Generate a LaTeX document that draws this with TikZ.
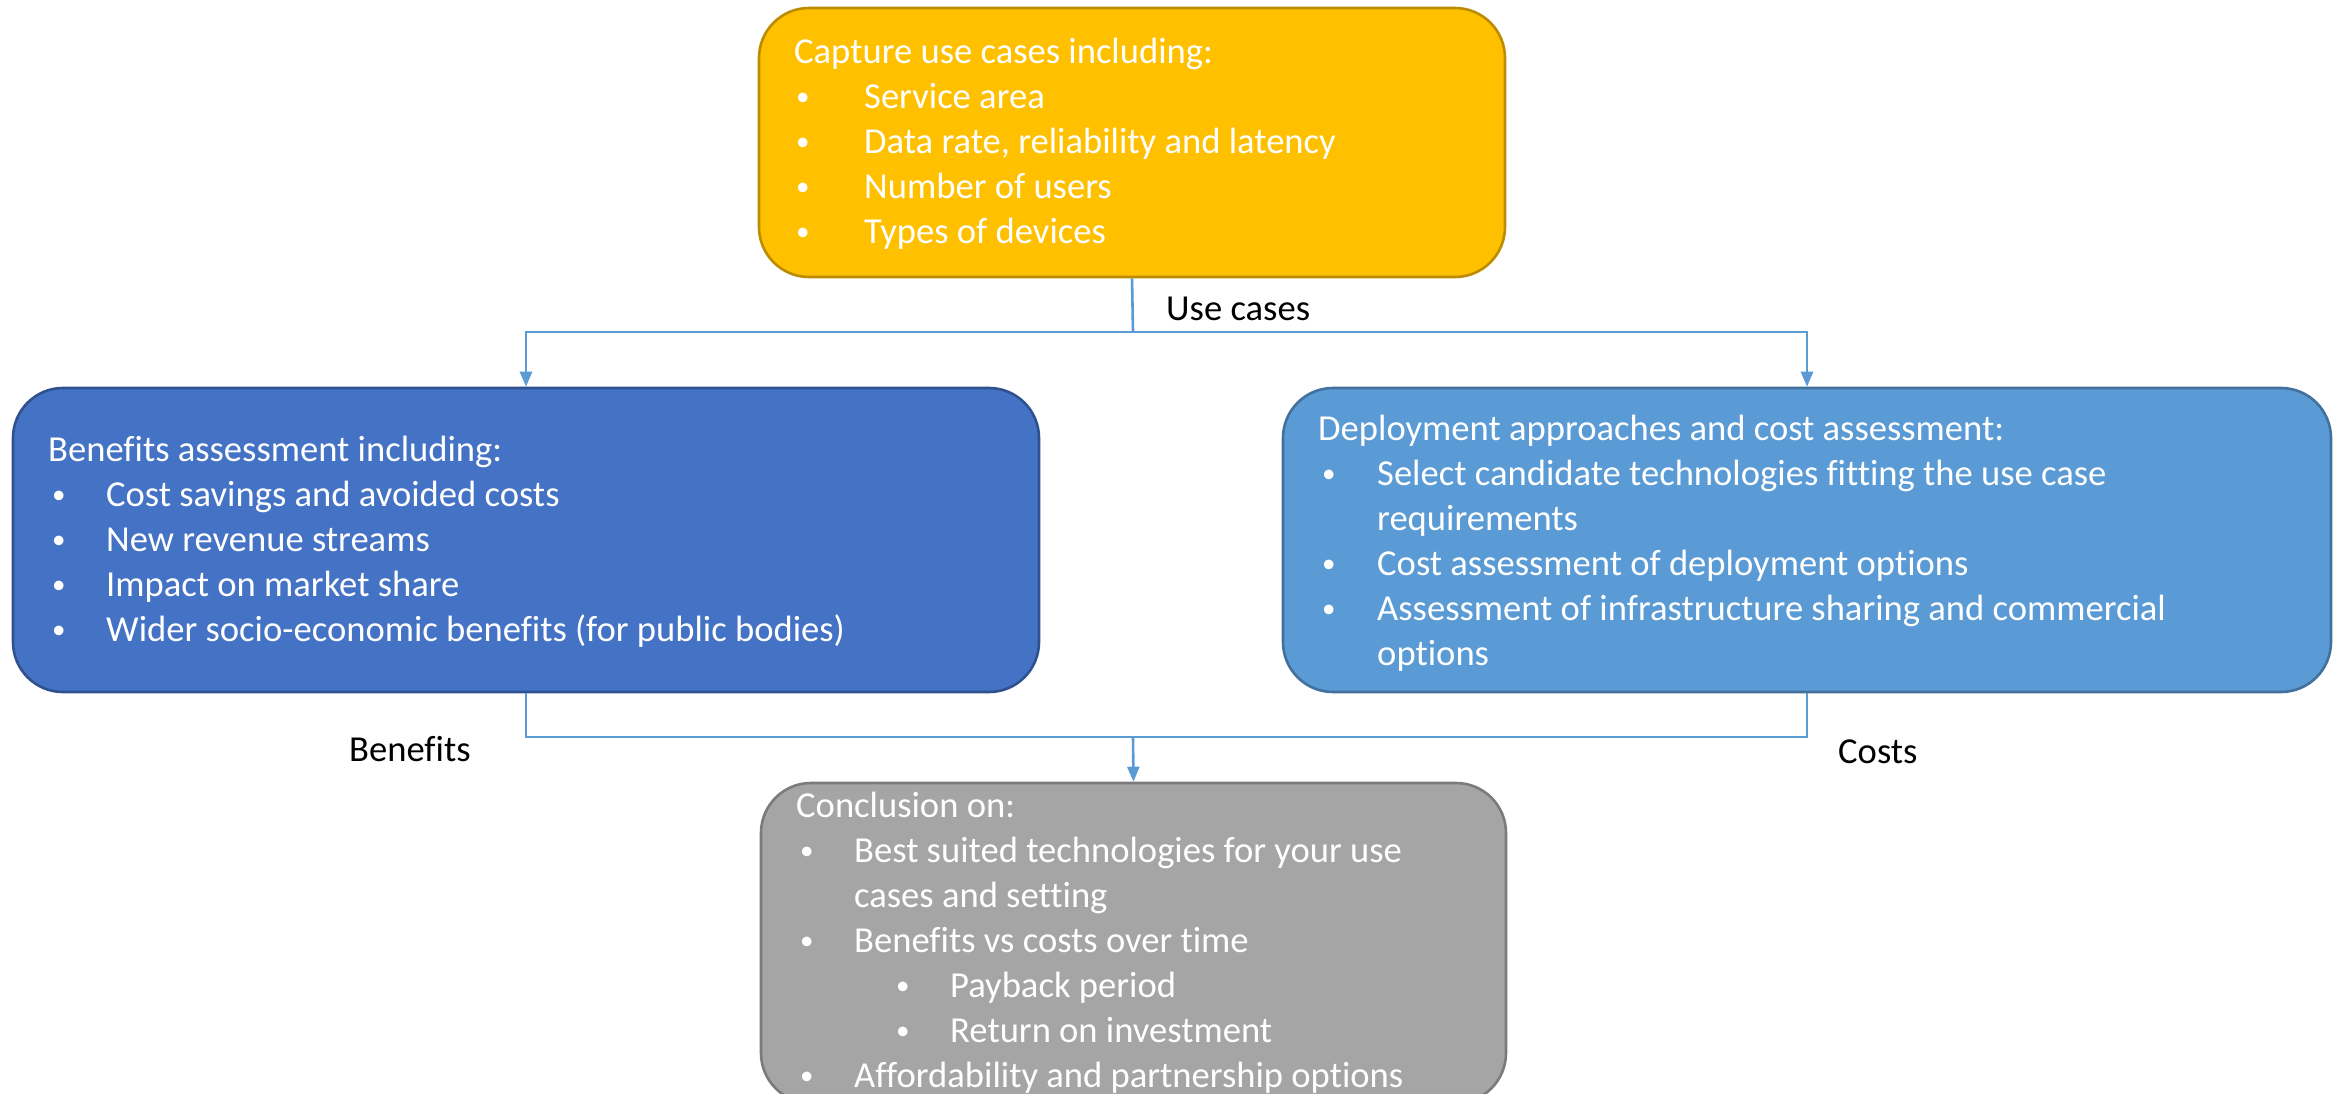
\documentclass[tikz,border=0pt]{standalone}
\usepackage{fontspec}
\setmainfont{Carlito}[Ligatures=NoCommon]
\usetikzlibrary{arrows.meta}

\definecolor{goldfill}{HTML}{FFC000}
\definecolor{goldline}{HTML}{BC8C00}
\definecolor{bluefill}{HTML}{4472C4}
\definecolor{blueline}{HTML}{2F528F}
\definecolor{skyfill}{HTML}{5B9BD5}
\definecolor{skyline}{HTML}{41719C}
\definecolor{greyfill}{HTML}{A5A5A5}
\definecolor{greyline}{HTML}{7B7B7B}
\definecolor{linkcol}{HTML}{5B9BD5}

% small list bullet
\newcommand{\dotmark}{\raisebox{3pt}{\fontsize{27}{27}\selectfont\textbullet}}
% bullet line: #1 = bullet offset, #2 = text offset, #3 = text
\newcommand{\bline}[3]{\makebox[0pt][l]{\hspace*{#1}\dotmark}\hspace*{#2}#3\par}
% continuation line of a bullet item
\newcommand{\contline}[2]{\hspace*{#1}#2\par}
\newcommand{\boxtext}[2]{\parbox[t]{#1}{\raggedright\parindent=0pt\parskip=0pt
  \fontsize{36.6}{45}\selectfont #2}}

\begin{document}
\begin{tikzpicture}[x=1pt,y=-1pt,
  card/.style={draw, line width=2.6pt, rounded corners=50pt, inner sep=0pt},
  words/.style={inner sep=0pt, anchor=base west, text=white},
  tag/.style={inner sep=0pt, anchor=base west, text=black,
    font=\fontsize{36.6}{45}\selectfont},
  link/.style={draw=linkcol, line width=2.6pt},
  arr/.style={link, -{Triangle[length=15pt,width=12pt]}}]

\useasboundingbox[fill=white] (0,0) rectangle (2338,1094);

% boxes
\node[card, fill=goldfill, draw=goldline, minimum width=746pt, minimum height=269pt]
  (capture) at (1132,142.5) {};
\node[card, fill=bluefill, draw=blueline, minimum width=1026pt, minimum height=304pt]
  (benefits) at (526,540) {};
\node[card, fill=skyfill, draw=skyline, minimum width=1048pt, minimum height=304pt]
  (deploy) at (1807,540) {};
\node[card, fill=greyfill, draw=greyline, minimum width=745pt, minimum height=320pt]
  (concl) at (1133.5,943) {};

% box texts
\node[words] (capturetxt) at (794,64) {\boxtext{700pt}{%
  Capture use cases including:\par
  \bline{2pt}{70pt}{Service area}
  \bline{2pt}{70pt}{Data rate, reliability and latency}
  \bline{2pt}{70pt}{Number of users}
  \bline{2pt}{70pt}{Types of devices}}};

\node[words] (benefitstxt) at (48,461) {\boxtext{980pt}{%
  Benefits assessment including:\par
  \bline{4pt}{58pt}{Cost savings and avoided costs}
  \bline{4pt}{58pt}{New revenue streams}
  \bline{4pt}{58pt}{Impact on market share}
  \bline{4pt}{58pt}{Wider socio-economic benefits (for public bodies)}}};

\node[words] (deploytxt) at (1318,440) {\boxtext{1000pt}{%
  Deployment approaches and cost assessment:\par
  \bline{4pt}{59pt}{Select candidate technologies fitting the use case}
  \contline{59pt}{requirements}
  \bline{4pt}{59pt}{Cost assessment of deployment options}
  \bline{4pt}{59pt}{Assessment of infrastructure sharing and commercial}
  \contline{59pt}{options}}};

\node[words] (concltxt) at (796,817) {\boxtext{700pt}{%
  Conclusion on:\par
  \bline{4pt}{58pt}{Best suited technologies for your use}
  \contline{58pt}{cases and setting}
  \bline{4pt}{58pt}{Benefits vs costs over time}
  \bline{100pt}{154pt}{Payback period}
  \bline{100pt}{154pt}{Return on investment}
  \bline{4pt}{58pt}{Affordability and partnership options}}};

% connectors
\coordinate (split) at (1133,332);
\coordinate (join) at (1133,737);
\draw[link] (capture.south) -- (split);
\draw[arr] (split) -| (benefits.north);
\draw[arr] (split) -| (deploy.north);
\draw[link] (benefits.south) |- (join) -| (deploy.south);
\draw[arr] (join) -- (concl.north);

% connector labels
\node[tag] (usecases) at (1166,320) {Use cases};
\node[tag] (benlabel) at (349,761) {Benefits};
\node[tag] (costlabel) at (1838,763) {Costs};
\end{tikzpicture}
\end{document}
